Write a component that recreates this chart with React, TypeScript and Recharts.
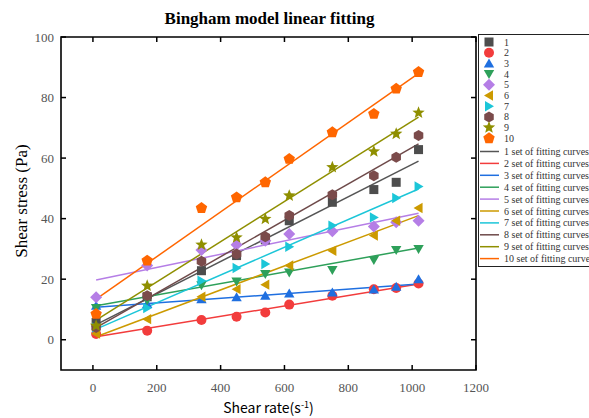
import React from "react";
import { ScatterChart, Scatter, XAxis, YAxis, ReferenceArea } from "recharts";

// shear rate (s^-1) for every sample set
const shearRate = [10, 170, 340, 450, 540, 615, 750, 880, 950, 1020];

// measured shear stress (Pa), sets 1..10
const stress1 = [5.7, 14.2, 22.8, 27.8, 33, 39.3, 45.4, 49.6, 52, 62.8];
const stress2 = [1.9, 3, 6.5, 7.6, 9, 11.6, 14.5, 16.7, 17.1, 18.6];
const stress3 = [11.2, 11.8, 13.4, 14, 14.5, 15.3, 15.6, 16.6, 17.5, 20];
const stress4 = [10.5, 13, 18, 19.2, 21.7, 22.2, 23, 26.3, 29.6, 30];
const stress5 = [14, 24.5, 29.6, 31.4, 32.7, 34.9, 35.8, 37.4, 38.8, 39.3];
const stress6 = [2, 6.8, 14.2, 16.7, 18.2, 24.5, 29.4, 34.4, 39.3, 43.5];
const stress7 = [4, 10.5, 19.5, 23.7, 25, 30.7, 37.7, 40.4, 46.8, 50.6];
const stress8 = [4, 14.5, 25.9, 28.3, 34, 41, 47.9, 54.2, 60.3, 67.5];
const stress9 = [4.6, 17.8, 31.4, 33.8, 39.9, 47.6, 57, 62.2, 68, 75];
const stress10 = [8.5, 26.1, 43.5, 47, 52, 59.7, 68.5, 74.6, 82.9, 88.4];

// fitted lines: stress at the first and last shear rate
const fitRate = [10, 1020];
const fitStart = [5, 1, 10.7, 11.2, 19.7, 1, 3.5, 4, 6.5, 13.4];
const fitEnd = [59, 18.4, 18.4, 30.3, 41.8, 41, 49.8, 64.7, 73.5, 88];

const setNames = ["1", "2", "3", "4", "5", "6", "7", "8", "9", "10"];
const fitNames = setNames.map((n) => (n === "10" ? "10 set of fitting curve" : n + " set of fitting curves"));

const xTicks = [0, 200, 400, 600, 800, 1000, 1200];
const yTicks = [0, 20, 40, 60, 80, 100];

const allStress = [stress1, stress2, stress3, stress4, stress5, stress6, stress7, stress8, stress9, stress10];
const markerColors = ["#4d4d4d", "#f23c3c", "#1f6fe0", "#2ea05a", "#b57ee6", "#cc9a00", "#1cc6d8", "#7b4b4b", "#8f8f00", "#ff6600"];
const lineColors = ["#555555", "#f23c3c", "#1f6fe0", "#2ea05a", "#b57ee6", "#cc9a00", "#1cc6d8", "#6e4a4a", "#8f8f00", "#ff6600"];
const kinds = ["square", "circle", "up", "down", "diamond", "left", "right", "hexagon", "star", "pentagon"];

const PLOT = { left: 61, right: 476, top: 37, bottom: 370 };
const SERIF = "'Liberation Serif', 'DejaVu Serif', serif";

function poly(cx: number, cy: number, r: number, n: number, rot: number) {
  const pts: string[] = [];
  for (let i = 0; i < n; i++) {
    const a = rot + (i * 2 * Math.PI) / n;
    pts.push(`${cx + r * Math.cos(a)},${cy + r * Math.sin(a)}`);
  }
  return pts.join(" ");
}

function starPts(cx: number, cy: number, ro: number, ri: number) {
  const pts: string[] = [];
  for (let i = 0; i < 10; i++) {
    const a = -Math.PI / 2 + (i * Math.PI) / 5;
    const r = i % 2 === 0 ? ro : ri;
    pts.push(`${cx + r * Math.cos(a)},${cy + r * Math.sin(a)}`);
  }
  return pts.join(" ");
}

function Marker({ kind, cx, cy, color }: { kind: string; cx: number; cy: number; color: string }) {
  switch (kind) {
    case "square":
      return <rect x={cx - 4.5} y={cy - 4.5} width={9} height={9} fill={color} />;
    case "circle":
      return <circle cx={cx} cy={cy} r={5} fill={color} />;
    case "up":
      return <polygon points={poly(cx, cy + 1, 6, 3, -Math.PI / 2)} fill={color} />;
    case "down":
      return <polygon points={poly(cx, cy - 1, 6, 3, Math.PI / 2)} fill={color} />;
    case "diamond":
      return <polygon points={poly(cx, cy, 6, 4, -Math.PI / 2)} fill={color} />;
    case "left":
      return <polygon points={poly(cx + 1, cy, 6, 3, Math.PI)} fill={color} />;
    case "right":
      return <polygon points={poly(cx - 1, cy, 6, 3, 0)} fill={color} />;
    case "hexagon":
      return <polygon points={poly(cx, cy, 5.5, 6, -Math.PI / 2)} fill={color} />;
    case "star":
      return <polygon points={starPts(cx, cy, 6.5, 2.8)} fill={color} />;
    default:
      return <polygon points={poly(cx, cy, 6, 5, -Math.PI / 2)} fill={color} />;
  }
}

function BottomTick(props: any) {
  const { x, payload } = props;
  return (
    <g>
      <line x1={x} y1={PLOT.bottom} x2={x} y2={PLOT.bottom - 5} stroke="#000" strokeWidth={1.5} />
      <line x1={x} y1={PLOT.top} x2={x} y2={PLOT.top + 5} stroke="#000" strokeWidth={1.5} />
      <text x={x} y={392} textAnchor="middle" fontFamily={SERIF} fontSize={13} fill="#555">
        {payload.value}
      </text>
    </g>
  );
}

function LeftTick(props: any) {
  const { y, payload } = props;
  return (
    <g>
      <line x1={PLOT.left} y1={y} x2={PLOT.left + 5} y2={y} stroke="#000" strokeWidth={1.5} />
      <line x1={PLOT.right} y1={y} x2={PLOT.right - 5} y2={y} stroke="#000" strokeWidth={1.5} />
      <text x={54} y={y + 4.5} textAnchor="end" fontFamily={SERIF} fontSize={13} fill="#555">
        {payload.value}
      </text>
    </g>
  );
}

function LegendBox() {
  return (
    <svg width={111} height={236} style={{ position: "absolute", left: 478, top: 34 }}>
      <rect x={0.5} y={0.5} width={130} height={232} fill="#fff" stroke="#222" strokeWidth={1} />
      {setNames.map((n, i) => {
        const cy = 8 + i * 10.7;
        return (
          <g key={"m" + n}>
            <Marker kind={kinds[i]} cx={11} cy={cy} color={markerColors[i]} />
            <text x={26} y={cy + 3.5} fontFamily={SERIF} fontSize={10} fill="#333">
              {n}
            </text>
          </g>
        );
      })}
      {fitNames.map((n, i) => {
        const cy = 117.5 + i * 11.9;
        return (
          <g key={"l" + i}>
            <line x1={2} y1={cy} x2={21} y2={cy} stroke={lineColors[i]} strokeWidth={1.5} />
            <text x={26} y={cy + 3.5} fontFamily={SERIF} fontSize={10} fill="#333">
              {n}
            </text>
          </g>
        );
      })}
    </svg>
  );
}

export default function App() {
  const pointSets = allStress.map((s) => shearRate.map((x, i) => ({ x, y: s[i] })));
  const fitSets = fitStart.map((s, i) => [
    { x: fitRate[0], y: s },
    { x: fitRate[1], y: fitEnd[i] },
  ]);

  return (
    <div style={{ position: "absolute", left: 0, top: 0, width: 589, height: 418, overflow: "hidden", background: "#fff" }}>
      <div
        style={{
          position: "absolute",
          left: 0,
          width: 539,
          top: 9,
          textAlign: "center",
          fontFamily: SERIF,
          fontWeight: "bold",
          fontSize: 17,
          color: "#000",
        }}
      >
        Bingham model linear fitting
      </div>
      <ScatterChart width={589} height={418} margin={{ top: 37, right: 113, bottom: 0, left: 0 }}>
        <XAxis
          type="number"
          dataKey="x"
          domain={[-100, 1200]}
          ticks={xTicks}
          height={48}
          axisLine={false}
          tickLine={false}
          tick={<BottomTick />}
          interval={0}
        />
        <YAxis
          type="number"
          dataKey="y"
          domain={[-10, 100]}
          ticks={yTicks}
          width={61}
          axisLine={false}
          tickLine={false}
          tick={<LeftTick />}
          interval={0}
        />
        <ReferenceArea x1={-100} x2={1200} y1={-10} y2={100} fill="none" fillOpacity={0} stroke="#000" strokeWidth={1.6} />
        {fitSets.map((d, i) => (
          <Scatter
            key={"fit" + i}
            data={d}
            line={{ stroke: lineColors[i], strokeWidth: 1.5 }}
            shape={() => <g />}
            isAnimationActive={false}
          />
        ))}
        {pointSets.map((d, i) => (
          <Scatter
            key={"pts" + i}
            data={d}
            isAnimationActive={false}
            shape={(p: any) => <Marker kind={kinds[i]} cx={p.cx} cy={p.cy} color={markerColors[i]} />}
          />
        ))}
      </ScatterChart>
      <div
        style={{
          position: "absolute",
          left: 22,
          top: 201,
          transform: "translate(-50%, -50%) rotate(-90deg)",
          whiteSpace: "nowrap",
          fontFamily: SERIF,
          fontSize: 17,
          color: "#000",
        }}
      >
        Shear stress (Pa)
      </div>
      <div
        style={{
          position: "absolute",
          left: 0,
          width: 537,
          top: 398,
          textAlign: "center",
          fontFamily: "'Noto Sans CJK SC', 'Noto Sans', sans-serif",
          fontSize: 14,
          color: "#000",
          lineHeight: "18px",
        }}
      >
        Shear rate(s<sup style={{ fontSize: 9, verticalAlign: "5px", lineHeight: 0 }}>-1</sup>)
      </div>
      <LegendBox />
    </div>
  );
}
